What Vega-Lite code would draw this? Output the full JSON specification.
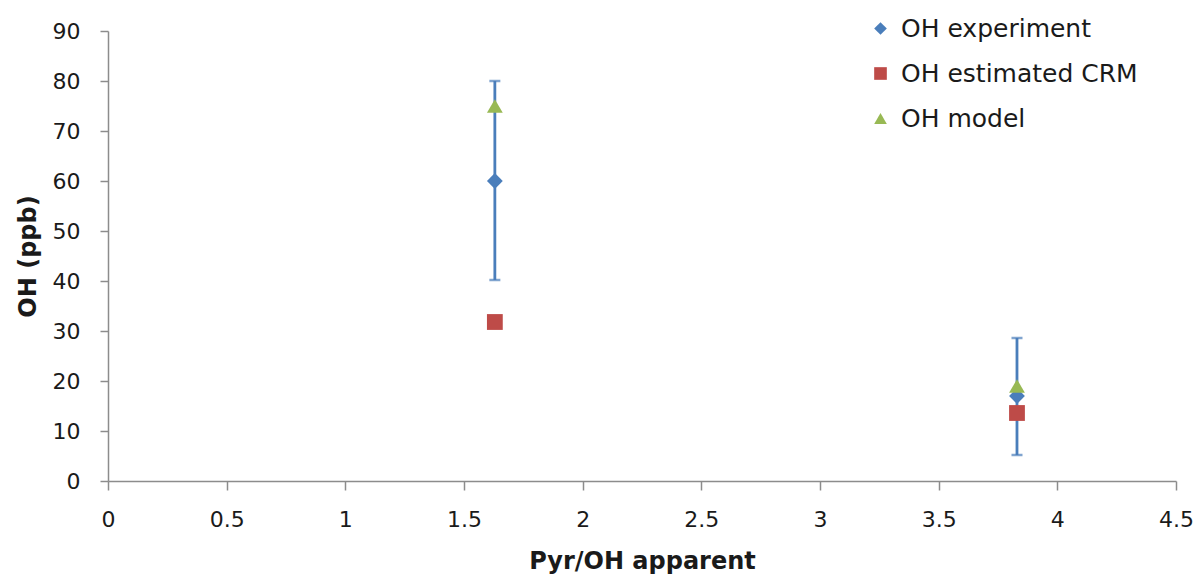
{
  "$schema": "https://vega.github.io/schema/vega-lite/v6.json",
  "autosize": "none",
  "width": 1068,
  "height": 450,
  "padding": {"left": 108, "top": 31, "right": 20, "bottom": 96},
  "background": "white",
  "config": {"view": {"stroke": null}, "font": "DejaVu Sans"},
  "data": {"values": [
    {"x": 1.63, "series": "OH experiment", "y": 60, "lo": 40.2, "hi": 80},
    {"x": 3.83, "series": "OH experiment", "y": 17, "lo": 5.2, "hi": 28.6},
    {"x": 1.63, "series": "OH estimated CRM", "y": 31.8},
    {"x": 3.83, "series": "OH estimated CRM", "y": 13.6},
    {"x": 1.63, "series": "OH model", "y": 75},
    {"x": 3.83, "series": "OH model", "y": 19}
  ]},
  "layer": [
    {
      "transform": [{"filter": "isValid(datum.lo)"}],
      "mark": {"type": "rule", "color": "#4A7EBB", "strokeWidth": 2.8},
      "encoding": {
        "x": {"field": "x", "type": "quantitative"},
        "y": {"field": "lo", "type": "quantitative"},
        "y2": {"field": "hi"}
      }
    },
    {
      "transform": [{"filter": "isValid(datum.lo)"}, {"fold": ["lo", "hi"], "as": ["k", "v"]}],
      "mark": {"type": "tick", "orient": "horizontal", "color": "#4A7EBB", "size": 11, "thickness": 2.5},
      "encoding": {
        "x": {"field": "x", "type": "quantitative"},
        "y": {"field": "v", "type": "quantitative"}
      }
    },
    {
      "mark": {"type": "point", "filled": true, "opacity": 1, "size": 250},
      "encoding": {
        "x": {
          "field": "x", "type": "quantitative",
          "scale": {"domain": [0, 4.5], "nice": false, "zero": false},
          "axis": {
            "values": [0, 0.5, 1, 1.5, 2, 2.5, 3, 3.5, 4, 4.5], "format": "~g",
            "grid": false, "domainColor": "#8c8c8c", "tickColor": "#8c8c8c", "domainWidth": 1.5, "tickWidth": 1.5,
            "tickSize": 9, "labelFontSize": 22, "labelColor": "#1a1a1a", "labelPadding": 19,
            "title": "Pyr/OH apparent", "titleFontSize": 24, "titleFontWeight": "bold",
            "titleColor": "#1a1a1a", "titlePadding": 19, "labelFlush": false
          }
        },
        "y": {
          "field": "y", "type": "quantitative",
          "scale": {"domain": [0, 90], "nice": false},
          "axis": {
            "values": [0, 10, 20, 30, 40, 50, 60, 70, 80, 90],
            "grid": false, "domainColor": "#8c8c8c", "tickColor": "#8c8c8c", "domainWidth": 1.5, "tickWidth": 1.5,
            "tickSize": 8, "labelFontSize": 22, "labelColor": "#1a1a1a", "labelPadding": 20,
            "title": "OH (ppb)", "titleFontSize": 24, "titleFontWeight": "bold",
            "titleColor": "#1a1a1a", "titlePadding": 12
          }
        },
        "color": {
          "field": "series", "type": "nominal",
          "scale": {"domain": ["OH experiment", "OH estimated CRM", "OH model"], "range": ["#4A7EBB", "#BE4B48", "#98B954"]},
          "legend": {
            "orient": "none", "legendX": 760, "legendY": -15, "title": null,
            "labelFontSize": 25, "labelColor": "#1a1a1a", "symbolSize": 160,
            "rowPadding": 19, "labelOffset": 8, "symbolOpacity": 1, "labelLimit": 400
          }
        },
        "shape": {
          "field": "series", "type": "nominal",
          "scale": {"domain": ["OH experiment", "OH estimated CRM", "OH model"], "range": ["diamond", "square", "triangle-up"]},
          "legend": null
        }
      }
    }
  ]
}
